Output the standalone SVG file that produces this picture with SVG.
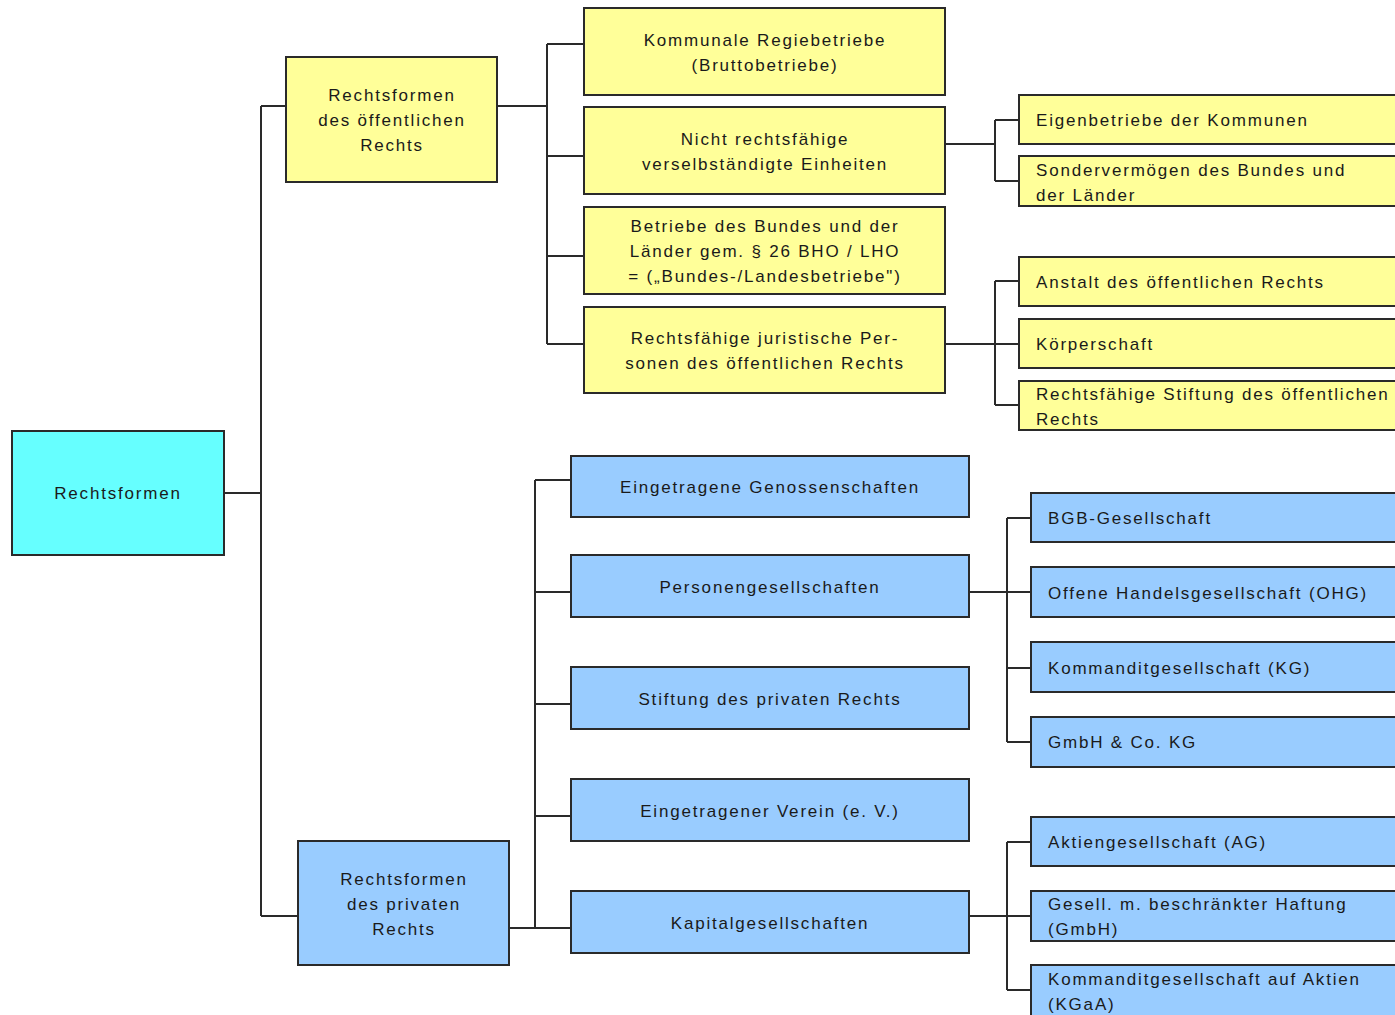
<svg xmlns="http://www.w3.org/2000/svg" width="1395" height="1015" viewBox="0 0 1395 1015">
<style>
.b{stroke:#2a2a2a;stroke-width:2}
.y{fill:#ffff99}
.bl{fill:#99ccff}
.c{fill:#66ffff}
text{font-family:"Liberation Sans",Arial,sans-serif;font-size:17px;fill:#1a1a1a;letter-spacing:1.8px}
.m{text-anchor:middle}
.ln{fill:none;stroke:#2a2a2a;stroke-width:2}
</style>
<rect width="1395" height="1015" fill="#ffffff"/>
<g id="connectors">
<path class="ln" d="M224 493H261M261 106V916M261 106H286M261 916H298"/>
<path class="ln" d="M497 106H547M547 44V344M547 44H584M547 156H584M547 256H584M547 344H584"/>
<path class="ln" d="M945 144H995M995 120V181M995 120H1019M995 181H1019"/>
<path class="ln" d="M945 344H995M995 281V405M995 281H1019M995 344H1019M995 405H1019"/>
<path class="ln" d="M509 928H535M535 480V928M535 480H571M535 592H571M535 704H571M535 816H571M535 928H571"/>
<path class="ln" d="M969 592H1007M1007 518V742M1007 518H1031M1007 592H1031M1007 668H1031M1007 742H1031"/>
<path class="ln" d="M969 916H1007M1007 842V990M1007 842H1031M1007 916H1031M1007 990H1031"/>
</g>
<g id="root"><rect class="b c" x="12" y="431" width="212" height="124"/><text class="m" x="118" y="499">Rechtsformen</text></g>
<g id="oeff"><rect class="b y" x="286" y="57" width="211" height="125"/><text class="m" x="392" y="101">Rechtsformen</text><text class="m" x="392" y="126">des öffentlichen</text><text class="m" x="392" y="151">Rechts</text></g>
<g id="priv"><rect class="b bl" x="298" y="841" width="211" height="124"/><text class="m" x="404" y="885">Rechtsformen</text><text class="m" x="404" y="910">des privaten</text><text class="m" x="404" y="935">Rechts</text></g>
<g id="regie"><rect class="b y" x="584" y="8" width="361" height="87"/><text class="m" x="765" y="46">Kommunale Regiebetriebe</text><text class="m" x="765" y="71">(Bruttobetriebe)</text></g>
<g id="nicht"><rect class="b y" x="584" y="107" width="361" height="87"/><text class="m" x="765" y="145">Nicht rechtsfähige</text><text class="m" x="765" y="170">verselbständigte Einheiten</text></g>
<g id="betriebe"><rect class="b y" x="584" y="207" width="361" height="87"/><text class="m" x="765" y="232">Betriebe des Bundes und der</text><text class="m" x="765" y="257">Länder gem. § 26 BHO / LHO</text><text class="m" x="765" y="282">= („Bundes-/Landesbetriebe")</text></g>
<g id="jur"><rect class="b y" x="584" y="307" width="361" height="86"/><text class="m" x="765" y="344">Rechtsfähige juristische Per-</text><text class="m" x="765" y="369">sonen des öffentlichen Rechts</text></g>
<g id="eigen"><rect class="b y" x="1019" y="95" width="385" height="49"/><text x="1036" y="126">Eigenbetriebe der Kommunen</text></g>
<g id="sonder"><rect class="b y" x="1019" y="156" width="385" height="50"/><text x="1036" y="176">Sondervermögen des Bundes und</text><text x="1036" y="201">der Länder</text></g>
<g id="anstalt"><rect class="b y" x="1019" y="257" width="385" height="49"/><text x="1036" y="288">Anstalt des öffentlichen Rechts</text></g>
<g id="koerp"><rect class="b y" x="1019" y="319" width="385" height="49"/><text x="1036" y="350">Körperschaft</text></g>
<g id="stiftoe"><rect class="b y" x="1019" y="381" width="385" height="49"/><text x="1036" y="400">Rechtsfähige Stiftung des öffentlichen</text><text x="1036" y="425">Rechts</text></g>
<g id="geno"><rect class="b bl" x="571" y="456" width="398" height="61"/><text class="m" x="770" y="493">Eingetragene Genossenschaften</text></g>
<g id="person"><rect class="b bl" x="571" y="555" width="398" height="62"/><text class="m" x="770" y="593">Personengesellschaften</text></g>
<g id="stiftpr"><rect class="b bl" x="571" y="667" width="398" height="62"/><text class="m" x="770" y="705">Stiftung des privaten Rechts</text></g>
<g id="verein"><rect class="b bl" x="571" y="779" width="398" height="62"/><text class="m" x="770" y="817">Eingetragener Verein (e. V.)</text></g>
<g id="kapital"><rect class="b bl" x="571" y="891" width="398" height="62"/><text class="m" x="770" y="929">Kapitalgesellschaften</text></g>
<g id="bgb"><rect class="b bl" x="1031" y="493" width="373" height="49"/><text x="1048" y="524">BGB-Gesellschaft</text></g>
<g id="ohg"><rect class="b bl" x="1031" y="567" width="373" height="50"/><text x="1048" y="599">Offene Handelsgesellschaft (OHG)</text></g>
<g id="kg"><rect class="b bl" x="1031" y="642" width="373" height="50"/><text x="1048" y="674">Kommanditgesellschaft (KG)</text></g>
<g id="gmbhco"><rect class="b bl" x="1031" y="717" width="373" height="50"/><text x="1048" y="748">GmbH &amp; Co. KG</text></g>
<g id="ag"><rect class="b bl" x="1031" y="817" width="373" height="49"/><text x="1048" y="848">Aktiengesellschaft (AG)</text></g>
<g id="gmbh"><rect class="b bl" x="1031" y="891" width="373" height="50"/><text x="1048" y="910">Gesell. m. beschränkter Haftung</text><text x="1048" y="935">(GmbH)</text></g>
<g id="kgaa"><rect class="b bl" x="1031" y="965" width="373" height="60"/><text x="1048" y="985">Kommanditgesellschaft auf Aktien</text><text x="1048" y="1010">(KGaA)</text></g>
</svg>
